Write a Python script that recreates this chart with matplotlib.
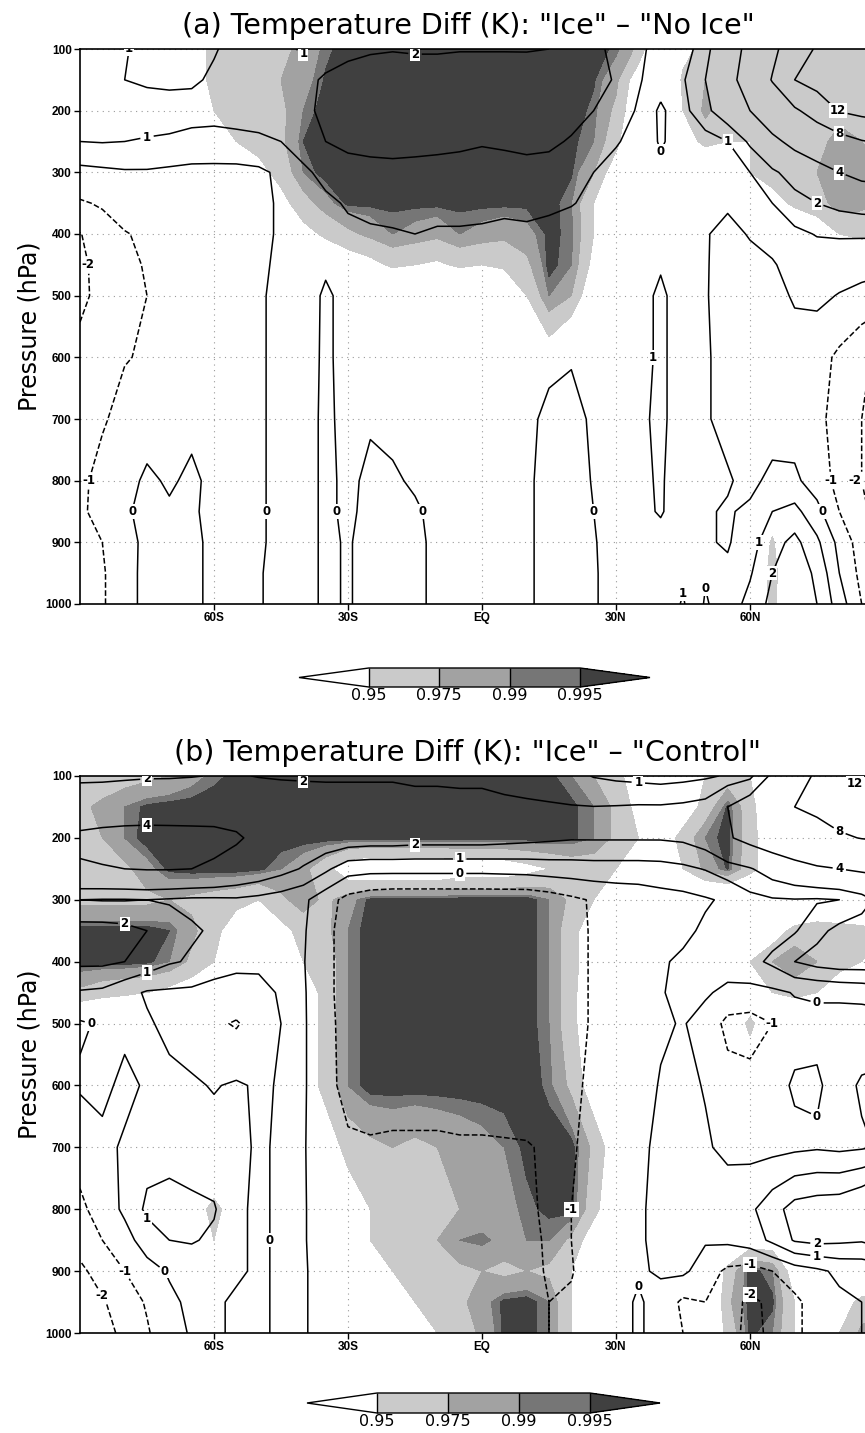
import numpy as np
import matplotlib
matplotlib.use('Agg')
from matplotlib import pyplot as plt
from matplotlib.colors import ListedColormap, BoundaryNorm
import matplotlib.cm as cm

# grid (latitude every 5 deg, pressure levels in hPa)
lats = np.arange(-90, 91, 5)
levs = [100, 150, 200, 250, 300, 350, 400, 450, 500, 600, 700, 800, 850, 900, 950, 1000]

# ---- panel (a): temperature diff "Ice" - "No Ice" (K)
ta_100 = [1.2, 1.2, 1.05, 0.8, 0.6, 0.7, 0.95, 1.2, 1.3, 1.2, 0.9, 1.3, 1.6, 1.8, 1.9, 1.8, 1.8, 1.9, 1.9, 1.9, 1.9, 2.0, 2.3, 2.2, 1.8, 1.4, 0.3, 0.4, 1.7, 3.0, 4.6, 7.2, 10.0, 12.4, 13.5, 14.0, 14.5]
ta_150 = [1.1, 1.05, 1.0, 0.9, 0.85, 0.9, 1.1, 1.4, 1.5, 1.3, 1.6, 2.2, 2.6, 2.9, 3.0, 3.0, 3.0, 3.0, 3.0, 3.0, 2.9, 2.8, 2.6, 2.4, 1.9, 1.1, 0.5, 0.9, 2.0, 3.3, 5.0, 8.2, 12.0, 13.5, 14.0, 14.2, 14.3]
ta_200 = [1.1, 1.2, 1.25, 1.3, 1.3, 1.25, 1.25, 1.3, 1.25, 1.2, 1.7, 2.3, 2.8, 3.0, 3.1, 3.1, 3.1, 3.1, 3.0, 3.0, 2.9, 2.7, 2.4, 2.0, 1.5, 0.9, -0.2, 0.7, 1.7, 2.8, 4.0, 5.5, 7.5, 9.5, 12.2, 13.0, 13.5]
ta_250 = [1.0, 1.05, 1.0, 0.95, 0.9, 0.8, 0.75, 0.8, 0.9, 1.0, 1.5, 2.0, 2.3, 2.4, 2.5, 2.4, 2.3, 2.2, 2.1, 2.2, 2.3, 2.2, 1.9, 1.5, 1.1, 0.6, -0.1, 0.4, 0.6, 1.0, 2.2, 3.5, 4.6, 5.5, 6.5, 7.8, 8.5]
ta_300 = [-0.3, -0.2, -0.1, -0.1, -0.2, -0.3, -0.3, -0.3, -0.2, 0.2, 0.8, 1.3, 1.5, 1.6, 1.6, 1.6, 1.6, 1.6, 1.5, 1.5, 1.6, 1.6, 1.3, 1.0, 0.6, 0.3, 0.2, 0.3, 0.5, 0.7, 1.0, 1.8, 2.5, 3.2, 4.0, 4.6, 4.8]
ta_350 = [-1.1, -0.9, -0.6, -0.4, -0.4, -0.4, -0.4, -0.3, -0.2, 0.1, 0.4, 0.8, 1.1, 1.2, 1.2, 1.2, 1.3, 1.3, 1.2, 1.2, 1.3, 1.2, 1.05, 0.8, 0.5, 0.3, 0.2, 0.1, 0.05, 0.1, 0.6, 1.0, 1.6, 2.0, 2.3, 2.5, 2.6]
ta_400 = [-2.05, -1.4, -1.05, -0.85, -0.6, -0.5, -0.4, -0.3, -0.2, 0.1, 0.3, 0.6, 0.8, 0.9, 0.95, 1.0, 0.9, 0.9, 0.9, 0.8, 0.8, 0.7, 0.6, 0.5, 0.4, 0.3, 0.35, 0.2, 0.05, -0.2, 0.05, 0.4, 0.8, 1.05, 1.1, 1.1, 1.1]
ta_450 = [-2.3, -1.5, -1.15, -0.95, -0.65, -0.5, -0.4, -0.3, -0.15, 0.15, 0.3, 0.1, 0.4, 0.5, 0.7, 0.75, 0.7, 0.7, 0.7, 0.65, 0.6, 0.5, 0.4, 0.3, 0.35, 0.45, 0.9, 0.35, 0.05, -0.25, -0.2, -0.1, 0.4, 0.5, 0.45, 0.4, 0.35]
ta_500 = [-2.3, -1.6, -1.2, -1.0, -0.7, -0.5, -0.4, -0.3, -0.1, 0.2, 0.3, -0.1, 0.2, 0.3, 0.4, 0.5, 0.5, 0.5, 0.5, 0.45, 0.4, 0.3, 0.2, 0.15, 0.3, 0.6, 1.2, 0.5, 0.05, -0.3, -0.4, -0.3, 0.1, 0.2, -0.05, -0.3, -0.6]
ta_600 = [-1.6, -1.2, -1.05, -0.9, -0.6, -0.5, -0.3, -0.2, -0.1, 0.2, 0.25, -0.1, 0.2, 0.25, 0.3, 0.35, 0.35, 0.35, 0.35, 0.3, 0.2, 0.1, 0.05, 0.15, 0.3, 0.6, 1.2, 0.5, 0.1, -0.3, -0.5, -0.5, -0.4, -0.6, -1.2, -1.8, -2.3]
ta_700 = [-1.3, -1.1, -0.7, -0.4, -0.3, -0.2, -0.2, -0.3, -0.1, 0.2, 0.2, -0.1, 0.15, 0.05, 0.1, 0.15, 0.2, 0.2, 0.2, 0.2, 0.1, -0.1, -0.2, 0.1, 0.4, 0.8, 1.2, 0.5, 0.1, -0.3, -0.5, -0.6, -0.5, -0.8, -1.3, -2.0, -2.4]
ta_800 = [-1.2, -0.7, -0.3, 0.15, -0.1, 0.15, -0.2, -0.3, -0.1, 0.2, 0.2, -0.1, 0.1, -0.1, -0.05, 0.05, 0.1, 0.2, 0.2, 0.2, 0.1, -0.2, -0.3, 0.05, 0.4, 0.8, 1.1, 0.5, 0.2, 0.1, -0.3, 0.3, 0.2, -0.5, -1.3, -2.0, -2.5]
ta_850 = [-1.2, -0.6, -0.1, 0.2, 0.1, 0.1, -0.2, -0.3, -0.1, 0.2, 0.2, -0.1, 0.1, -0.15, -0.15, -0.05, 0.1, 0.2, 0.2, 0.2, 0.1, -0.2, -0.3, 0.0, 0.3, 0.7, 1.1, 0.4, 0.1, -0.1, 0.2, 1.0, 1.3, 0.3, -1.0, -1.8, -2.5]
ta_900 = [-1.3, -1.0, -0.3, 0.2, 0.3, 0.2, -0.2, -0.3, -0.1, 0.2, 0.2, -0.1, 0.05, -0.2, -0.2, -0.1, 0.1, 0.2, 0.2, 0.2, 0.1, -0.2, -0.3, -0.05, 0.3, 0.6, 0.6, 0.3, 0.1, -0.1, 0.6, 1.6, 2.3, 1.2, -0.3, -1.5, -2.5]
ta_950 = [-1.4, -1.1, -0.4, 0.3, 0.3, 0.2, -0.2, -0.3, -0.05, 0.2, 0.2, -0.1, 0.05, -0.2, -0.2, -0.1, 0.1, 0.2, 0.2, 0.2, 0.1, -0.2, -0.3, -0.05, 0.2, 0.3, 0.4, 0.8, 0.1, 0.2, 0.9, 2.0, 2.6, 1.8, 0.0, -1.3, -2.8]
ta_1000 = [-1.4, -1.1, -0.4, 0.3, 0.3, 0.2, -0.2, -0.3, -0.05, 0.2, 0.2, -0.1, 0.05, -0.2, -0.2, -0.1, 0.1, 0.2, 0.2, 0.2, 0.1, -0.2, -0.3, -0.05, 0.2, 0.3, 0.3, 1.1, -0.1, 0.5, 1.3, 2.3, 2.6, 2.0, 0.5, -1.0, -2.5]

# ---- panel (a): significance level
sa_100 = [0.9, 0.9, 0.9, 0.9, 0.9, 0.93, 0.96, 0.965, 0.97, 0.97, 0.98, 0.993, 0.999, 0.999, 0.999, 0.999, 0.999, 0.999, 0.999, 0.999, 0.999, 0.999, 0.999, 0.999, 0.993, 0.97, 0.9, 0.94, 0.96, 0.97, 0.96, 0.96, 0.965, 0.965, 0.965, 0.965, 0.965]
sa_150 = [0.9, 0.9, 0.9, 0.9, 0.9, 0.93, 0.96, 0.965, 0.97, 0.975, 0.985, 0.996, 0.999, 0.999, 0.999, 0.999, 0.999, 0.999, 0.999, 0.999, 0.999, 0.999, 0.999, 0.996, 0.98, 0.93, 0.9, 0.955, 0.975, 0.97, 0.96, 0.96, 0.96, 0.965, 0.965, 0.965, 0.965]
sa_200 = [0.9, 0.9, 0.9, 0.9, 0.9, 0.92, 0.95, 0.96, 0.965, 0.97, 0.99, 0.999, 0.999, 0.999, 0.999, 0.999, 0.999, 0.999, 0.999, 0.999, 0.999, 0.999, 0.999, 0.993, 0.97, 0.92, 0.9, 0.95, 0.98, 0.96, 0.955, 0.96, 0.96, 0.965, 0.97, 0.97, 0.965]
sa_250 = [0.9, 0.9, 0.9, 0.9, 0.9, 0.9, 0.93, 0.95, 0.96, 0.97, 0.995, 0.999, 0.999, 0.999, 0.999, 0.999, 0.999, 0.999, 0.999, 0.999, 0.999, 0.999, 0.997, 0.99, 0.96, 0.9, 0.9, 0.93, 0.96, 0.95, 0.95, 0.96, 0.96, 0.97, 0.98, 0.975, 0.97]
sa_300 = [0.9, 0.9, 0.9, 0.9, 0.9, 0.9, 0.9, 0.92, 0.94, 0.96, 0.99, 0.999, 0.999, 0.999, 0.999, 0.999, 0.999, 0.999, 0.999, 0.999, 0.999, 0.999, 0.996, 0.975, 0.93, 0.9, 0.9, 0.9, 0.9, 0.93, 0.95, 0.96, 0.965, 0.975, 0.988, 0.985, 0.975]
sa_350 = [0.9, 0.9, 0.9, 0.9, 0.9, 0.9, 0.9, 0.9, 0.92, 0.94, 0.965, 0.985, 0.997, 0.997, 0.997, 0.997, 0.997, 0.997, 0.997, 0.997, 0.997, 0.999, 0.99, 0.95, 0.9, 0.9, 0.9, 0.9, 0.9, 0.9, 0.92, 0.94, 0.955, 0.965, 0.985, 0.98, 0.97]
sa_400 = [0.9, 0.9, 0.9, 0.9, 0.9, 0.9, 0.9, 0.9, 0.9, 0.92, 0.94, 0.955, 0.97, 0.98, 0.99, 0.985, 0.98, 0.99, 0.985, 0.98, 0.985, 0.997, 0.993, 0.95, 0.9, 0.9, 0.9, 0.9, 0.9, 0.9, 0.9, 0.9, 0.92, 0.93, 0.95, 0.96, 0.95]
sa_450 = [0.9, 0.9, 0.9, 0.9, 0.9, 0.9, 0.9, 0.9, 0.9, 0.9, 0.9, 0.92, 0.93, 0.94, 0.955, 0.95, 0.945, 0.955, 0.95, 0.955, 0.97, 0.998, 0.99, 0.94, 0.9, 0.9, 0.9, 0.9, 0.9, 0.9, 0.9, 0.9, 0.9, 0.9, 0.9, 0.9, 0.9]
sa_500 = [0.9, 0.9, 0.9, 0.9, 0.9, 0.9, 0.9, 0.9, 0.9, 0.9, 0.9, 0.9, 0.9, 0.9, 0.9, 0.9, 0.9, 0.9, 0.9, 0.92, 0.95, 0.99, 0.975, 0.92, 0.9, 0.9, 0.9, 0.9, 0.9, 0.9, 0.9, 0.9, 0.9, 0.9, 0.9, 0.9, 0.9]
sa_600 = [0.9, 0.9, 0.9, 0.9, 0.9, 0.9, 0.9, 0.9, 0.9, 0.9, 0.9, 0.9, 0.9, 0.9, 0.9, 0.9, 0.9, 0.9, 0.9, 0.9, 0.9, 0.93, 0.9, 0.9, 0.9, 0.9, 0.9, 0.9, 0.9, 0.9, 0.9, 0.9, 0.9, 0.9, 0.9, 0.9, 0.9]
sa_700 = [0.9, 0.9, 0.9, 0.9, 0.9, 0.9, 0.9, 0.9, 0.9, 0.9, 0.9, 0.9, 0.9, 0.9, 0.9, 0.9, 0.9, 0.9, 0.9, 0.9, 0.9, 0.9, 0.9, 0.9, 0.9, 0.9, 0.9, 0.9, 0.9, 0.9, 0.9, 0.9, 0.9, 0.9, 0.9, 0.9, 0.9]
sa_800 = [0.9, 0.9, 0.9, 0.9, 0.9, 0.9, 0.9, 0.9, 0.9, 0.9, 0.9, 0.9, 0.9, 0.9, 0.9, 0.9, 0.9, 0.9, 0.9, 0.9, 0.9, 0.9, 0.9, 0.9, 0.9, 0.9, 0.9, 0.9, 0.9, 0.9, 0.9, 0.9, 0.9, 0.9, 0.9, 0.9, 0.9]
sa_850 = [0.9, 0.9, 0.9, 0.9, 0.9, 0.9, 0.9, 0.9, 0.9, 0.9, 0.9, 0.9, 0.9, 0.9, 0.9, 0.9, 0.9, 0.9, 0.9, 0.9, 0.9, 0.9, 0.9, 0.9, 0.9, 0.9, 0.9, 0.9, 0.9, 0.9, 0.9, 0.93, 0.9, 0.9, 0.9, 0.9, 0.9]
sa_900 = [0.9, 0.9, 0.9, 0.9, 0.9, 0.9, 0.9, 0.9, 0.9, 0.9, 0.9, 0.9, 0.9, 0.9, 0.9, 0.9, 0.9, 0.9, 0.9, 0.9, 0.9, 0.9, 0.9, 0.9, 0.9, 0.9, 0.9, 0.9, 0.9, 0.9, 0.9, 0.955, 0.9, 0.9, 0.9, 0.9, 0.9]
sa_950 = [0.9, 0.9, 0.9, 0.9, 0.9, 0.9, 0.9, 0.9, 0.9, 0.9, 0.9, 0.9, 0.9, 0.9, 0.9, 0.9, 0.9, 0.9, 0.9, 0.9, 0.9, 0.9, 0.9, 0.9, 0.9, 0.9, 0.9, 0.9, 0.9, 0.9, 0.9, 0.965, 0.9, 0.9, 0.9, 0.9, 0.9]
sa_1000 = [0.9, 0.9, 0.9, 0.9, 0.9, 0.9, 0.9, 0.9, 0.9, 0.9, 0.9, 0.9, 0.9, 0.9, 0.9, 0.9, 0.9, 0.9, 0.9, 0.9, 0.9, 0.9, 0.9, 0.9, 0.9, 0.9, 0.9, 0.9, 0.9, 0.9, 0.9, 0.96, 0.9, 0.9, 0.9, 0.9, 0.9]

# ---- panel (b): temperature diff "Ice" - "Control" (K)
tb_100 = [1.8, 1.8, 1.85, 1.9, 1.9, 1.95, 2.05, 2.1, 1.95, 1.9, 1.9, 1.9, 1.9, 1.9, 1.9, 1.85, 1.85, 1.8, 1.8, 1.7, 1.6, 1.5, 1.3, 0.95, 0.8, 0.7, 0.6, 0.7, 0.85, 1.1, 1.6, 4.5, 6.5, 8.5, 11.0, 12.5, 13.5]
tb_150 = [2.7, 2.8, 2.9, 3.0, 3.1, 3.2, 3.3, 3.2, 3.0, 2.7, 2.5, 2.4, 2.4, 2.4, 2.4, 2.3, 2.3, 2.3, 2.3, 2.2, 2.15, 2.1, 2.05, 2.02, 2.05, 2.1, 2.1, 2.2, 2.4, 4.0, 5.5, 7.0, 8.0, 8.6, 9.5, 10.5, 11.5]
tb_200 = [4.4, 4.6, 4.7, 4.7, 4.6, 4.5, 4.4, 4.2, 3.6, 3.2, 2.9, 2.8, 2.7, 2.6, 2.6, 2.5, 2.5, 2.5, 2.5, 2.4, 2.3, 2.2, 2.1, 2.1, 2.1, 2.1, 2.1, 2.2, 2.6, 3.8, 4.6, 5.3, 6.0, 6.8, 7.6, 8.1, 8.4]
tb_250 = [3.8, 3.9, 4.0, 4.1, 4.1, 4.0, 3.8, 3.3, 2.9, 2.4, 1.9, 1.2, 0.4, 0.3, 0.3, 0.3, 0.3, 0.3, 0.3, 0.35, 0.4, 0.5, 0.55, 0.6, 0.6, 0.6, 0.65, 0.8, 1.05, 1.5, 1.9, 2.6, 3.2, 3.7, 4.0, 4.3, 4.4]
tb_300 = [1.0, 0.95, 0.95, 1.0, 0.9, 0.8, 0.8, 0.85, 0.7, 0.5, 0.2, -0.6, -1.3, -1.6, -1.7, -1.7, -1.7, -1.7, -1.7, -1.7, -1.7, -1.5, -1.2, -0.9, -0.7, -0.6, -0.4, -0.3, -0.1, 0.15, 0.7, 0.9, 0.95, 0.9, 1.0, 1.5, 2.5]
tb_350 = [2.4, 2.4, 2.3, 2.0, 1.5, 1.1, 0.9, 0.6, 0.4, 0.3, 0.1, -0.7, -1.5, -1.8, -1.8, -1.8, -1.8, -1.8, -1.8, -1.8, -1.8, -1.6, -1.3, -0.9, -0.7, -0.6, -0.4, -0.2, 0.15, 0.3, 0.5, 0.6, 0.9, 1.7, 2.3, 2.6, 2.7]
tb_400 = [2.2, 2.2, 2.0, 1.6, 1.1, 0.9, 0.4, 0.15, 0.1, 0.1, 0.05, -0.7, -1.5, -1.85, -1.85, -1.85, -1.85, -1.85, -1.85, -1.85, -1.85, -1.7, -1.3, -0.9, -0.7, -0.6, -0.1, 0.15, 0.3, 0.4, 0.7, 1.2, 2.0, 2.4, 2.6, 2.6, 2.6]
tb_450 = [0.9, 0.8, 0.3, -0.1, -0.15, -0.2, -0.3, -0.25, -0.15, 0.05, 0.1, -0.7, -1.5, -1.85, -1.85, -1.85, -1.85, -1.85, -1.85, -1.85, -1.85, -1.7, -1.3, -0.9, -0.7, -0.5, -0.05, 0.2, 0.1, -0.2, -0.3, -0.2, 0.05, 0.1, 0.2, 0.3, 0.5]
tb_500 = [-0.1, 0.1, 0.2, 0.1, -0.2, -0.4, -0.8, -1.1, -0.5, 0.0, 0.1, -0.6, -1.5, -1.9, -1.9, -1.9, -1.9, -1.9, -1.9, -1.9, -1.9, -1.8, -1.3, -0.9, -0.7, -0.4, -0.1, 0.05, -0.3, -1.3, -1.4, -1.0, -0.3, -0.2, -0.4, -0.5, -0.5]
tb_600 = [0.1, 0.2, -0.2, 0.1, 0.2, 0.1, -0.05, 0.1, -0.1, 0.05, 0.1, -0.6, -1.4, -1.8, -1.8, -1.8, -1.8, -1.8, -1.8, -1.8, -1.8, -1.6, -1.2, -0.8, -0.6, -0.3, 0.05, 0.2, -0.05, -0.6, -0.7, -0.3, 0.1, 0.1, -0.3, 0.1, 0.2]
tb_700 = [-0.6, -0.2, 0.1, 0.6, 0.7, 0.1, 0.3, 0.2, -0.1, 0.1, 0.05, -0.4, -0.8, -0.8, -0.7, -0.7, -0.7, -0.8, -0.8, -0.85, -0.9, -1.2, -1.1, -0.7, -0.5, -0.2, 0.2, 0.3, 0.1, -0.2, -0.3, -0.3, -0.2, -0.1, -0.2, -0.1, 0.1]
tb_800 = [-1.2, -0.6, 0.2, 1.2, 1.3, 1.4, 1.1, 0.1, -0.1, 0.1, 0.05, -0.3, -0.5, -0.5, -0.5, -0.6, -0.6, -0.7, -0.8, -0.8, -0.9, -1.1, -1.0, -0.6, -0.4, -0.1, 0.2, 0.1, 0.3, 0.5, 0.8, 1.6, 2.4, 2.6, 2.7, 3.2, 4.2]
tb_850 = [-1.6, -1.0, -0.4, 0.5, 1.0, 1.1, 0.8, 0.1, -0.1, 0.1, 0.05, -0.3, -0.4, -0.4, -0.5, -0.5, -0.6, -0.6, -0.7, -0.7, -0.8, -1.1, -1.0, -0.6, -0.3, -0.1, 0.2, 0.2, 0.1, 0.2, 0.5, 1.2, 2.1, 2.3, 2.2, 2.1, 2.5]
tb_900 = [-2.2, -1.6, -1.0, -0.4, 0.1, 0.3, 0.2, 0.1, -0.1, 0.1, 0.05, -0.2, -0.3, -0.3, -0.4, -0.4, -0.5, -0.5, -0.6, -0.6, -0.7, -1.1, -1.05, -0.6, -0.4, -0.1, 0.1, 0.2, -0.5, -1.2, -1.4, -1.0, -0.5, -0.2, 0.2, 0.3, 0.5]
tb_950 = [-2.6, -2.1, -1.5, -0.9, -0.2, 0.2, 0.1, -0.1, -0.1, 0.1, 0.05, -0.2, -0.3, -0.3, -0.4, -0.4, -0.5, -0.5, -0.6, -0.6, -0.7, -1.0, -0.9, -0.5, -0.3, 0.1, -0.3, -1.2, -1.0, -1.6, -2.2, -1.8, -1.2, -0.6, -0.2, 0.0, 0.2]
tb_1000 = [-2.8, -2.3, -1.8, -1.1, -0.4, 0.1, 0.1, -0.1, -0.1, 0.1, 0.05, -0.2, -0.3, -0.3, -0.4, -0.4, -0.5, -0.5, -0.6, -0.6, -0.7, -1.0, -0.9, -0.5, -0.3, 0.1, -0.3, -1.0, -1.0, -1.6, -2.3, -1.8, -1.2, -0.6, -0.2, 0.0, 0.2]

# ---- panel (b): significance level
sb_100 = [0.96, 0.96, 0.965, 0.97, 0.975, 0.985, 0.993, 0.997, 0.999, 0.999, 0.999, 0.999, 0.999, 0.999, 0.999, 0.999, 0.999, 0.999, 0.999, 0.999, 0.999, 0.997, 0.99, 0.975, 0.96, 0.93, 0.9, 0.92, 0.95, 0.96, 0.95, 0.92, 0.9, 0.9, 0.9, 0.9, 0.9]
sb_150 = [0.97, 0.98, 0.99, 0.997, 0.999, 0.999, 0.999, 0.999, 0.999, 0.999, 0.999, 0.999, 0.999, 0.999, 0.999, 0.999, 0.999, 0.999, 0.999, 0.999, 0.999, 0.999, 0.997, 0.99, 0.97, 0.94, 0.9, 0.93, 0.96, 0.997, 0.96, 0.92, 0.9, 0.9, 0.9, 0.9, 0.9]
sb_200 = [0.97, 0.975, 0.99, 0.999, 0.999, 0.999, 0.999, 0.999, 0.999, 0.999, 0.999, 0.999, 0.999, 0.999, 0.999, 0.999, 0.999, 0.999, 0.999, 0.999, 0.999, 0.999, 0.997, 0.99, 0.97, 0.95, 0.93, 0.96, 0.99, 0.999, 0.96, 0.93, 0.9, 0.9, 0.9, 0.9, 0.9]
sb_250 = [0.96, 0.965, 0.97, 0.985, 0.997, 0.999, 0.999, 0.999, 0.997, 0.99, 0.98, 0.96, 0.93, 0.92, 0.92, 0.92, 0.92, 0.93, 0.93, 0.93, 0.94, 0.95, 0.96, 0.96, 0.95, 0.93, 0.92, 0.95, 0.98, 0.996, 0.96, 0.93, 0.9, 0.9, 0.9, 0.9, 0.9]
sb_300 = [0.97, 0.97, 0.97, 0.97, 0.975, 0.97, 0.965, 0.96, 0.95, 0.97, 0.985, 0.97, 0.985, 0.997, 0.999, 0.999, 0.999, 0.999, 0.999, 0.999, 0.999, 0.99, 0.97, 0.95, 0.93, 0.9, 0.9, 0.9, 0.9, 0.9, 0.9, 0.9, 0.9, 0.9, 0.9, 0.9, 0.9]
sb_350 = [0.999, 0.999, 0.999, 0.999, 0.995, 0.98, 0.96, 0.93, 0.92, 0.94, 0.96, 0.97, 0.99, 0.999, 0.999, 0.999, 0.999, 0.999, 0.999, 0.999, 0.999, 0.99, 0.96, 0.93, 0.9, 0.9, 0.9, 0.9, 0.9, 0.9, 0.9, 0.93, 0.96, 0.97, 0.965, 0.96, 0.95]
sb_400 = [0.999, 0.999, 0.999, 0.997, 0.99, 0.97, 0.95, 0.93, 0.9, 0.92, 0.95, 0.96, 0.99, 0.999, 0.999, 0.999, 0.999, 0.999, 0.999, 0.999, 0.999, 0.99, 0.96, 0.93, 0.9, 0.9, 0.9, 0.9, 0.9, 0.9, 0.95, 0.975, 0.99, 0.975, 0.96, 0.95, 0.94]
sb_450 = [0.97, 0.96, 0.955, 0.95, 0.94, 0.93, 0.92, 0.9, 0.9, 0.9, 0.93, 0.96, 0.99, 0.999, 0.999, 0.999, 0.999, 0.999, 0.999, 0.999, 0.999, 0.99, 0.96, 0.92, 0.9, 0.9, 0.9, 0.9, 0.9, 0.9, 0.93, 0.95, 0.96, 0.95, 0.93, 0.92, 0.9]
sb_500 = [0.9, 0.9, 0.9, 0.9, 0.9, 0.9, 0.9, 0.9, 0.9, 0.9, 0.93, 0.96, 0.99, 0.999, 0.999, 0.999, 0.999, 0.999, 0.999, 0.999, 0.999, 0.99, 0.96, 0.92, 0.9, 0.9, 0.9, 0.9, 0.9, 0.93, 0.955, 0.93, 0.9, 0.9, 0.9, 0.9, 0.9]
sb_600 = [0.9, 0.9, 0.9, 0.9, 0.9, 0.9, 0.9, 0.9, 0.9, 0.9, 0.93, 0.96, 0.99, 0.999, 0.999, 0.999, 0.999, 0.999, 0.999, 0.999, 0.999, 0.993, 0.97, 0.93, 0.9, 0.9, 0.9, 0.9, 0.9, 0.9, 0.93, 0.9, 0.9, 0.9, 0.9, 0.9, 0.9]
sb_700 = [0.9, 0.9, 0.9, 0.9, 0.9, 0.9, 0.9, 0.9, 0.9, 0.9, 0.9, 0.93, 0.96, 0.97, 0.975, 0.97, 0.975, 0.98, 0.985, 0.99, 0.997, 0.999, 0.999, 0.97, 0.93, 0.9, 0.9, 0.9, 0.9, 0.9, 0.9, 0.9, 0.9, 0.9, 0.9, 0.9, 0.9]
sb_800 = [0.9, 0.9, 0.9, 0.9, 0.9, 0.93, 0.96, 0.93, 0.9, 0.9, 0.9, 0.9, 0.93, 0.95, 0.96, 0.965, 0.97, 0.975, 0.98, 0.985, 0.993, 0.997, 0.999, 0.96, 0.92, 0.9, 0.9, 0.9, 0.9, 0.9, 0.9, 0.9, 0.9, 0.9, 0.9, 0.9, 0.9]
sb_850 = [0.9, 0.9, 0.9, 0.9, 0.9, 0.92, 0.95, 0.92, 0.9, 0.9, 0.9, 0.9, 0.92, 0.95, 0.96, 0.965, 0.975, 0.99, 0.993, 0.985, 0.99, 0.99, 0.97, 0.93, 0.9, 0.9, 0.9, 0.9, 0.9, 0.9, 0.93, 0.93, 0.9, 0.9, 0.9, 0.9, 0.9]
sb_900 = [0.9, 0.9, 0.9, 0.9, 0.9, 0.9, 0.9, 0.9, 0.9, 0.9, 0.9, 0.9, 0.9, 0.93, 0.95, 0.96, 0.965, 0.97, 0.975, 0.97, 0.975, 0.97, 0.95, 0.92, 0.9, 0.9, 0.9, 0.9, 0.9, 0.96, 0.999, 0.99, 0.93, 0.9, 0.9, 0.9, 0.9]
sb_950 = [0.9, 0.9, 0.9, 0.9, 0.9, 0.9, 0.9, 0.9, 0.9, 0.9, 0.9, 0.9, 0.9, 0.92, 0.94, 0.95, 0.96, 0.97, 0.985, 0.997, 0.999, 0.99, 0.95, 0.92, 0.9, 0.9, 0.9, 0.9, 0.9, 0.97, 0.999, 0.997, 0.95, 0.9, 0.93, 0.96, 0.97]
sb_1000 = [0.9, 0.9, 0.9, 0.9, 0.9, 0.9, 0.9, 0.9, 0.9, 0.9, 0.9, 0.9, 0.9, 0.92, 0.93, 0.94, 0.95, 0.96, 0.98, 0.997, 0.999, 0.99, 0.95, 0.92, 0.9, 0.9, 0.9, 0.9, 0.9, 0.96, 0.997, 0.99, 0.95, 0.9, 0.95, 0.98, 0.985]

temp_a = np.array([ta_100, ta_150, ta_200, ta_250, ta_300, ta_350, ta_400, ta_450,
                   ta_500, ta_600, ta_700, ta_800, ta_850, ta_900, ta_950, ta_1000])
sig_a = np.array([sa_100, sa_150, sa_200, sa_250, sa_300, sa_350, sa_400, sa_450,
                  sa_500, sa_600, sa_700, sa_800, sa_850, sa_900, sa_950, sa_1000])
temp_b = np.array([tb_100, tb_150, tb_200, tb_250, tb_300, tb_350, tb_400, tb_450,
                   tb_500, tb_600, tb_700, tb_800, tb_850, tb_900, tb_950, tb_1000])
sig_b = np.array([sb_100, sb_150, sb_200, sb_250, sb_300, sb_350, sb_400, sb_450,
                  sb_500, sb_600, sb_700, sb_800, sb_850, sb_900, sb_950, sb_1000])

clevs = [-12, -8, -4, -2, -1, 0, 1, 2, 4, 8, 12]
sig_bounds = [0.95, 0.975, 0.99, 0.995]
sig_labels = ['0.95', '0.975', '0.99', '0.995']
grays = ['#cacaca', '#a2a2a2', '#767676', '#404040']
xticks = [-60, -30, 0, 30, 60]
xlabels = ['60S', '30S', 'EQ', '30N', '60N']
yticks = [100, 200, 300, 400, 500, 600, 700, 800, 900, 1000]

titles = ['(a) Temperature Diff (K): "Ice" \u2013 "No Ice"',
          '(b) Temperature Diff (K): "Ice" \u2013 "Control"']

W, H = 865, 1433
fig = plt.figure(figsize=(W / 100, H / 100), dpi=100)

def px_axes(left, top, right, bottom):
    return [left / W, 1 - bottom / H, (right - left) / W, (bottom - top) / H]

tickfont = dict(family=['Liberation Sans', 'DejaVu Sans'], weight='bold', size=8.5)

def panel(rect, temp, sig, title, title_y):
    ax = fig.add_axes(rect)
    ax.set_axisbelow(True)
    ax.grid(True, linestyle=(0, (1, 4)), color='#9a9a9a', linewidth=0.8)
    ax.contourf(lats, levs, sig, levels=sig_bounds + [1.0], colors=grays)
    cs = ax.contour(lats, levs, temp, levels=clevs, colors='k', linewidths=1.1)
    lbls = ax.clabel(cs, fmt='%d', fontsize=8.5, inline=True, inline_spacing=3)
    for t in lbls:
        t.set_rotation(0)
        t.set_fontweight('bold')
        t.set_bbox(dict(facecolor='white', edgecolor='none', pad=0.6))
        x, y = t.get_position()
        if x > 83.5:          # keep edge labels inside the visible part
            t.set_position((83.5, y))
    ax.set_xlim(-90, 90)
    ax.set_ylim(1000, 100)
    ax.set_xticks(xticks)
    ax.set_xticklabels(xlabels, fontdict=tickfont)
    ax.set_yticks(yticks)
    ax.set_yticklabels([str(v) for v in yticks], fontdict=tickfont)
    ax.tick_params(direction='out', length=4, width=1, pad=2)
    for s in ax.spines.values():
        s.set_linewidth(1.2)
    fig.text(0.541, title_y, title, ha='center', va='center', fontsize=20.5,
             family='DejaVu Sans', color='black')
    return ax

ax1 = panel(px_axes(80, 49, 884, 604), temp_a, sig_a, titles[0], 1 - 26 / H)
ax2 = panel(px_axes(80, 776, 884, 1333), temp_b, sig_b, titles[1], 1 - 753 / H)

fig.text(30 / W, 1 - 326 / H, 'Pressure (hPa)', rotation=90, ha='center', va='center',
         fontsize=17, family='DejaVu Sans')
fig.text(30 / W, 1 - 1054 / H, 'Pressure (hPa)', rotation=90, ha='center', va='center',
         fontsize=17, family='DejaVu Sans')

# colorbars
cmap = ListedColormap(grays[:3])
cmap.set_under('white')
cmap.set_over(grays[3])
norm = BoundaryNorm(sig_bounds, cmap.N)
for rect in (px_axes(299, 668, 650, 687), px_axes(307, 1393, 660, 1413)):
    cax = fig.add_axes(rect)
    cb = fig.colorbar(cm.ScalarMappable(norm=norm, cmap=cmap), cax=cax,
                      orientation='horizontal', extend='both', extendfrac=0.33,
                      spacing='uniform', drawedges=True, ticks=sig_bounds)
    cb.ax.set_xticklabels(sig_labels, fontsize=11.5, family='DejaVu Sans')
    cb.ax.tick_params(length=0, pad=1)
    cb.outline.set_linewidth(1.0)
    cb.dividers.set_linewidth(1.0)

fig.savefig('out.png', dpi=100)
